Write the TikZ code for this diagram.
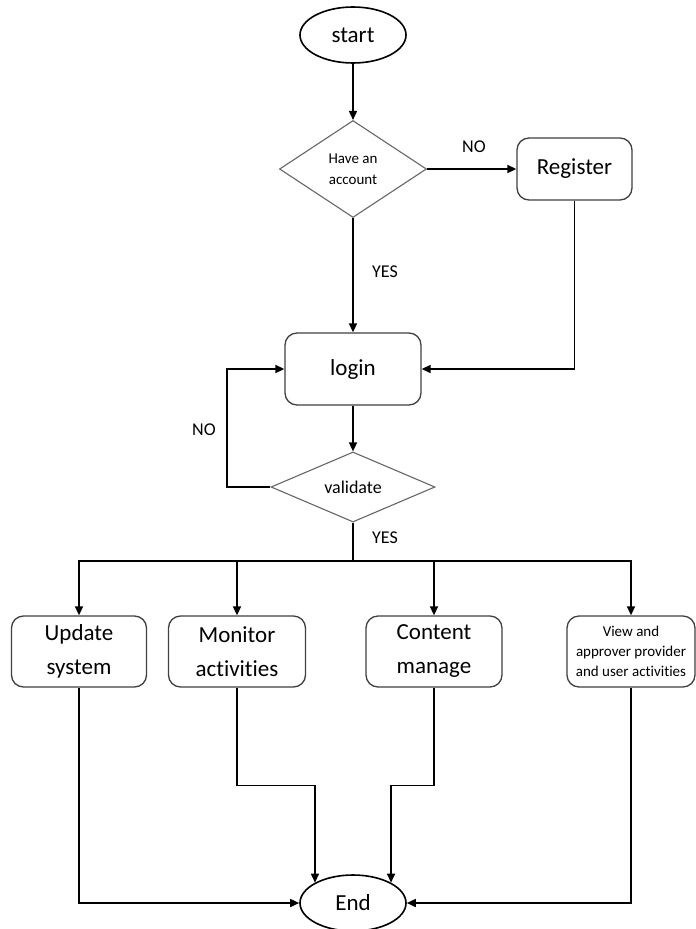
\documentclass[tikz,border=0pt]{standalone}
\usepackage{fontspec}
\setmainfont{Carlito}[Ligatures=NoCommon]
\usetikzlibrary{shapes.geometric,arrows.meta}
\begin{document}
\begin{tikzpicture}[x=1pt,y=-1pt,
  conn/.style={line width=1.6pt, black},
  arr/.style={conn, -{Triangle[length=9pt,width=8pt]}},
  term/.style={ellipse, draw=black, line width=1.6pt, fill=white,
    minimum width=106pt, minimum height=56pt, inner sep=0pt,
    font=\fontsize{23}{28}\selectfont},
  proc/.style={rectangle, rounded corners=12pt, draw=black!75, line width=1.3pt,
    fill=white, align=center, inner sep=0pt,
    font=\fontsize{23}{34}\selectfont},
  decide/.style={diamond, draw=black!60, line width=1.1pt, fill=white,
    inner sep=0pt, align=center},
  lbl/.style={font=\fontsize{18}{20}\selectfont, inner sep=0pt}
]
% canvas
\useasboundingbox (0,0) rectangle (696,929);

% nodes
\node[term] (start) at (353,35) {start};
\node[decide, minimum width=147pt, minimum height=97pt,
      font=\fontsize{15}{21}\selectfont] (have) at (353,169) {Have an\\account};
\node[proc, minimum width=115pt, minimum height=62pt] (reg) at (574.5,169) {Register};
\node[proc, minimum width=136pt, minimum height=72pt] (login) at (353,369) {login};
\node[decide, minimum width=164pt, minimum height=70pt,
      font=\fontsize{18}{20}\selectfont] (valid) at (353,487) {validate};

\node[proc, minimum width=135pt, minimum height=71pt] (upd) at (79,651.5) {Update\\system};
\node[proc, minimum width=137pt, minimum height=71pt] (mon) at (237,651.5) {Monitor\\activities};
\node[proc, minimum width=136pt, minimum height=71pt] (con) at (434,651.5) {Content\\manage};
\node[proc, minimum width=128pt, minimum height=71pt,
      font=\fontsize{15}{20}\selectfont] (view) at (631,651.5)
      {View and\\approver provider\\and user activities};

\node[term] (endn) at (353,903) {End};

% branch labels
\node[lbl] (noa) at (474,147) {NO};
\node[lbl] (yesa) at (385,272) {YES};
\node[lbl] (nob) at (204,430) {NO};
\node[lbl] (yesb) at (385,538) {YES};

% helper points
\coordinate (loop) at (227,487);
\coordinate (bus) at (353,561);

% connectors
\draw[arr] (start) -- (have);
\draw[arr] (have.east) -- (reg.west);
\draw[arr] (have.south) -- (login.north);
\draw[arr] (reg.south) |- (login.east);
\draw[arr] (login.south) -- (valid.north);
\draw[arr] (valid.west) -- (loop) |- (login.west);
\draw[conn] (valid.south) -- (bus);
\draw[arr] (bus) -| (upd.north);
\draw[arr] (bus) -| (mon.north);
\draw[arr] (bus) -| (con.north);
\draw[arr] (bus) -| (view.north);

\draw[arr] (upd.south) |- (endn.west);
\draw[arr] (mon.south) -- ++(0,98) -| (endn.north west);
\draw[arr] (con.south) -- ++(0,98) -| (endn.north east);
\draw[arr] (view.south) |- (endn.east);
\end{tikzpicture}
\end{document}
